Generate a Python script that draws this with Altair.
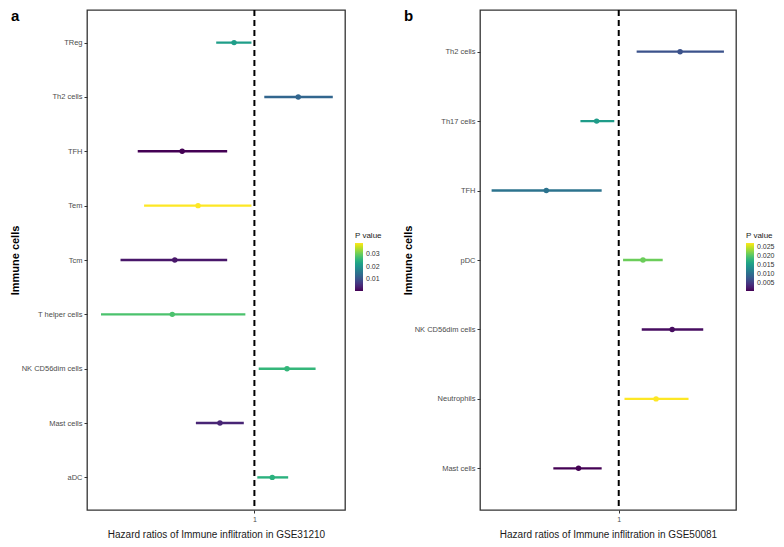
import altair as alt
import pandas as pd

# Panel a (GSE31210)
cells_a = ["TReg", "Th2 cells", "TFH", "Tem", "Tcm", "T helper cells",
           "NK CD56dim cells", "Mast cells", "aDC"]
hr_a = [0.87, 1.35, 0.61, 0.68, 0.58, 0.57, 1.25, 0.79, 1.13]
lo_a = [0.77, 1.07, 0.45, 0.47, 0.40, 0.35, 1.03, 0.67, 1.02]
hi_a = [0.98, 1.71, 0.83, 0.98, 0.83, 0.94, 1.52, 0.93, 1.26]
p_a = [0.022, 0.013, 0.0004, 0.039, 0.0027, 0.028, 0.026, 0.0043, 0.025]
legend_ticks_a = [0.01, 0.02, 0.03]
xdomain_a = [0.318, 1.859]

# Panel b (GSE50081)
cells_b = ["Th2 cells", "Th17 cells", "TFH", "pDC", "NK CD56dim cells",
           "Neutrophils", "Mast cells"]
hr_b = [1.52, 0.86, 0.61, 1.18, 1.44, 1.29, 0.76]
lo_b = [1.13, 0.77, 0.42, 1.03, 1.17, 1.04, 0.64]
hi_b = [2.05, 0.97, 0.89, 1.35, 1.78, 1.61, 0.89]
p_b = [0.007, 0.015, 0.0104, 0.021, 0.0011, 0.027, 0.0003]
legend_ticks_b = [0.005, 0.010, 0.015, 0.020, 0.025]
xdomain_b = [0.388, 2.226]

FONT = "Liberation Sans"
H = 500


def panel(cells, hr, lo, hi, p, ticks, xdomain, letter, gse, width, fmt):
    df = pd.DataFrame({"cell": cells, "hr": hr, "lo": lo, "hi": hi, "p": p})
    xscale = alt.Scale(type="log", domain=xdomain, nice=False)
    yscale = alt.Scale(type="point", padding=0.6)
    yenc = alt.Y("cell:N", sort=cells, scale=yscale,
                 axis=alt.Axis(title="Immune cells", titleFontSize=11,
                               titleFontWeight="bold", titleColor="black",
                               titlePadding=1, labelFontSize=7.5,
                               labelColor="#4d4d4d", tickColor="#333333",
                               tickSize=3, labelPadding=2, domain=False,
                               grid=False))
    xenc = alt.X("lo:Q", scale=xscale,
                 axis=alt.Axis(title=f"Hazard ratios of Immune inflitration in {gse}",
                               values=[1], format="d", titleFontSize=10,
                               titleFontWeight="normal", titleColor="#1a1a1a",
                               titlePadding=7, labelFontSize=7,
                               labelColor="#4d4d4d", tickColor="#333333",
                               tickSize=3, labelPadding=2, domain=False,
                               grid=False))
    cscale = alt.Scale(scheme="viridis", domain=[min(p), max(p)])
    legend = alt.Legend(title="P value", values=ticks, type="gradient",
                        format=fmt, orient="none",
                        legendX=width + 10, legendY=H / 2 - 28,
                        gradientLength=48, gradientThickness=8,
                        titleFontSize=8, titleFontWeight="normal",
                        titleColor="#1a1a1a", labelFontSize=7,
                        labelColor="#333333", titlePadding=3,
                        labelOffset=3, gradientStrokeWidth=0)
    base = alt.Chart(df)
    bars = base.mark_rule(strokeWidth=2.4).encode(
        x=xenc, x2="hi:Q", y=yenc,
        color=alt.Color("p:Q", scale=cscale, legend=legend))
    pts = base.mark_point(filled=False, size=5, strokeWidth=3.2,
                          opacity=1, shape="circle").encode(
        x=alt.X("hr:Q", scale=xscale), y=alt.Y("cell:N", sort=cells, scale=yscale),
        color=alt.Color("p:Q", scale=cscale, legend=legend))
    vline = alt.Chart(pd.DataFrame({"v": [1]})).mark_rule(
        strokeDash=[6, 4], strokeWidth=2, color="black").encode(
        x=alt.X("v:Q", scale=xscale))
    lab = alt.Chart(pd.DataFrame({"t": [letter]})).mark_text(
        fontSize=15, fontWeight="bold", font=FONT, align="left",
        baseline="top", color="black").encode(
        text="t:N", x=alt.value(-76), y=alt.value(-1))
    return alt.layer(vline, bars, pts, lab).properties(width=width, height=H)


pa = panel(cells_a, hr_a, lo_a, hi_a, p_a, legend_ticks_a, xdomain_a, "a",
           "GSE31210", 258, ".2f")
pb = panel(cells_b, hr_b, lo_b, hi_b, p_b, legend_ticks_b, xdomain_b, "b",
           "GSE50081", 256, ".3f")

chart = alt.hconcat(pa, pb, spacing=18).resolve_scale(
    color="independent", x="independent", y="independent"
).properties(padding={"left": 0, "top": 0, "right": 0, "bottom": 0},
             autosize=alt.AutoSizeParams(type="pad")).configure(font=FONT).configure_view(
    stroke="#333333", strokeWidth=1.3)

chart.save("out.html", embed_options={"renderer": "svg", "actions": False})
